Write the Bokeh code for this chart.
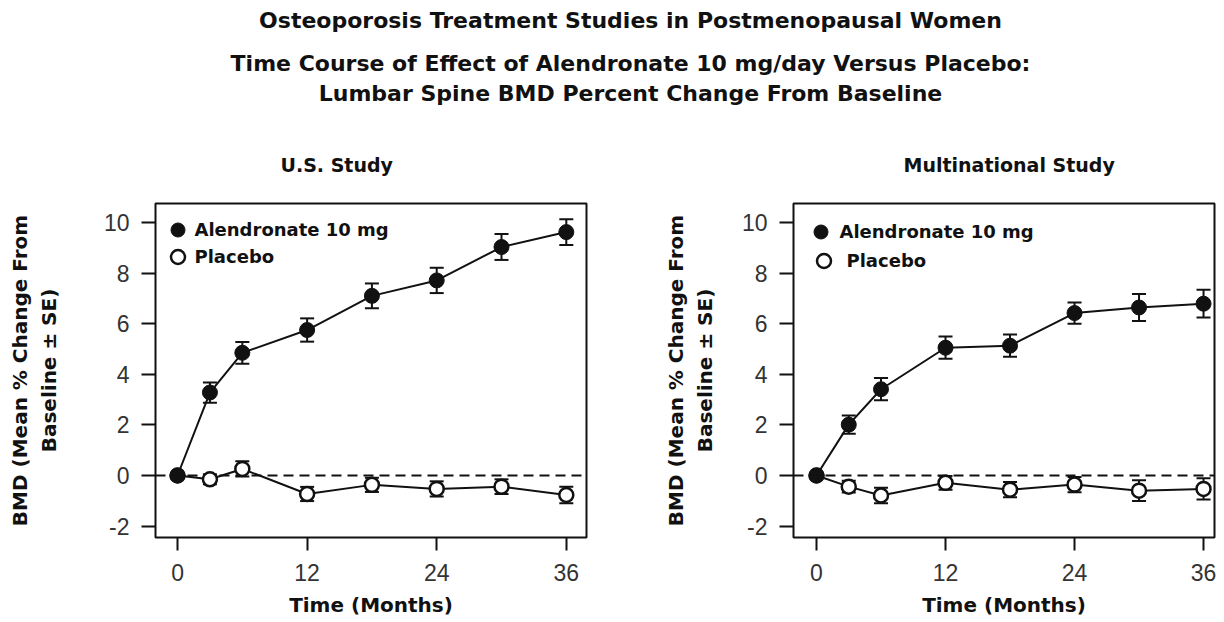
from bokeh.plotting import figure
from bokeh.models import (ColumnDataSource, Whisker, TeeHead, Span, Legend,
                          LegendItem, Label, FixedTicker, Range1d)
from bokeh.layouts import column, row
from bokeh.embed import file_html
from bokeh.resources import INLINE

# ---------------- data ----------------
months = [0, 3, 6, 12, 18, 24, 30, 36]

us_aln = [0, 3.28, 4.85, 5.75, 7.10, 7.71, 9.03, 9.62]
us_aln_se = [0, 0.40, 0.43, 0.46, 0.49, 0.50, 0.51, 0.51]
us_pbo = [0, -0.15, 0.26, -0.73, -0.37, -0.53, -0.44, -0.77]
us_pbo_se = [0, 0.20, 0.30, 0.28, 0.28, 0.30, 0.29, 0.33]

mn_aln = [0, 2.01, 3.41, 5.05, 5.13, 6.42, 6.64, 6.79]
mn_aln_se = [0, 0.36, 0.44, 0.44, 0.44, 0.42, 0.53, 0.55]
mn_pbo = [0, -0.44, -0.79, -0.29, -0.56, -0.36, -0.60, -0.53]
mn_pbo_se = [0, 0.23, 0.31, 0.27, 0.30, 0.30, 0.41, 0.42]

x_ticks = [0, 12, 24, 36]
y_ticks = [-2, 0, 2, 4, 6, 8, 10]
y_tick_labels = {-2: "-2", 0: "0", 2: "2", 4: "4", 6: "6", 8: "8", 10: "10"}

title_lines = [
    "Osteoporosis Treatment Studies in Postmenopausal Women",
    "Time Course of Effect of Alendronate 10 mg/day Versus Placebo:",
    "Lumbar Spine BMD Percent Change From Baseline",
]
panel_titles = ["U.S. Study", "Multinational Study"]
legend_labels = ["Alendronate 10 mg", "Placebo"]
x_title = "Time (Months)"
y_title = "BMD (Mean % Change From\nBaseline \u00b1 SE)"

BOLD_FONT = "DejaVu Sans"
TICK_FONT = "Liberation Sans"
INK = "#111111"

TOP_H = 187
MB_TOP = 16
FRAME_H = 334
MB_BOTTOM = 88
PANEL_H = MB_TOP + FRAME_H + MB_BOTTOM


def whisker_source(x, y, se):
    xs, lo, up = [], [], []
    for xi, yi, si in zip(x, y, se):
        if si > 0:
            xs.append(xi)
            lo.append(yi - si)
            up.append(yi + si)
    return ColumnDataSource(dict(x=xs, lower=lo, upper=up))


def make_panel(aln, aln_se, pbo, pbo_se, ml, fw, mr, xr, lab_standoff, legs):
    p = figure(width=ml + fw + mr, height=PANEL_H,
               min_border_left=ml, min_border_right=mr,
               min_border_top=MB_TOP, min_border_bottom=MB_BOTTOM,
               x_range=Range1d(*xr), y_range=Range1d(-2.45, 10.75),
               toolbar_location=None, output_backend="svg", title=None,
               background_fill_color="white", border_fill_color="white")
    p.grid.visible = False
    p.outline_line_color = INK
    p.outline_line_width = 2

    p.xaxis.ticker = FixedTicker(ticks=x_ticks)
    p.yaxis.ticker = FixedTicker(ticks=y_ticks)
    p.yaxis.major_label_overrides = y_tick_labels
    for ax in (p.xaxis, p.yaxis):
        ax.axis_line_color = None
        ax.major_tick_in = 0
        ax.major_tick_out = 14
        ax.major_tick_line_width = 2
        ax.major_tick_line_color = INK
        ax.minor_tick_line_color = None
        ax.major_label_text_font = TICK_FONT
        ax.major_label_text_font_size = "23px"
        ax.major_label_text_color = "#333333"
        ax.axis_label_text_font = BOLD_FONT
        ax.axis_label_text_font_style = "bold"
        ax.axis_label_text_font_size = "20px"
        ax.axis_label_text_color = INK
    p.xaxis.axis_label = x_title
    p.xaxis.major_tick_out = 13
    p.xaxis.major_label_standoff = 13
    p.xaxis.axis_label_standoff = 9
    p.yaxis.axis_label = y_title
    p.yaxis.major_label_standoff = 12
    p.yaxis.axis_label_standoff = lab_standoff
    p.yaxis.axis_label_text_line_height = 1.2

    p.add_layout(Span(location=0, dimension="width", line_color=INK,
                      line_width=2, line_dash="10 6", level="underlay"))

    # placebo
    p.line(months, pbo, line_color=INK, line_width=2)
    p.add_layout(Whisker(source=whisker_source(months, pbo, pbo_se),
                         base="x", lower="lower", upper="upper",
                         line_color=INK, line_width=2, level="underlay",
                         upper_head=TeeHead(size=14, line_width=2, line_color=INK),
                         lower_head=TeeHead(size=14, line_width=2, line_color=INK)))
    r_pbo = p.scatter(months, pbo, size=14, fill_color="white",
                      line_color=INK, line_width=2.5)
    # alendronate
    p.line(months, aln, line_color=INK, line_width=2)
    p.add_layout(Whisker(source=whisker_source(months, aln, aln_se),
                         base="x", lower="lower", upper="upper",
                         line_color=INK, line_width=2, level="underlay",
                         upper_head=TeeHead(size=14, line_width=2, line_color=INK),
                         lower_head=TeeHead(size=14, line_width=2, line_color=INK)))
    r_aln = p.scatter(months, aln, size=15, fill_color=INK, line_color=INK)

    for label, rend, (vx, vtop, ls) in zip(legend_labels, [r_aln, r_pbo], legs):
        gsz = 35
        leg = Legend(items=[LegendItem(label=label, renderers=[rend])],
                     location=(vx, FRAME_H - vtop - gsz), padding=0, margin=0,
                     glyph_width=gsz, glyph_height=gsz, label_standoff=ls,
                     border_line_color=None, background_fill_alpha=0,
                     label_text_font=BOLD_FONT, label_text_font_style="bold",
                     label_text_font_size="18px", label_text_color=INK)
        p.add_layout(leg, "center")
    return p


# ---------------- title strip (main titles + panel titles) ----------------
tp = figure(width=1216, height=TOP_H, x_range=(0, 1), y_range=(0, 1),
            x_axis_type=None, y_axis_type=None, min_border=0, title=None,
            toolbar_location=None, output_backend="svg",
            outline_line_color=None, border_fill_color="white")
tp.grid.visible = False
for txt, yt in zip(title_lines, [20, 63, 93]):
    tp.add_layout(Label(x=630, y=TOP_H - yt, x_units="screen", y_units="screen",
                        text=txt, text_align="center", text_baseline="alphabetic",
                        text_font=BOLD_FONT, text_font_style="bold",
                        text_font_size="22px", text_color=INK))
for txt, xl in zip(panel_titles, [280, 903]):
    tp.add_layout(Label(x=xl, y=TOP_H - 164, x_units="screen", y_units="screen",
                        text=txt, text_align="left", text_baseline="middle",
                        text_font=BOLD_FONT, text_font_style="bold",
                        text_font_size="19px", text_color=INK))

left = make_panel(us_aln, us_aln_se, us_pbo, us_pbo_se,
                  ml=155, fw=431, mr=46, xr=(-2.04, 37.87), lab_standoff=40,
                  legs=[(4.5, 8.5, 0), (4.5, 35.5, 0)])
right = make_panel(mn_aln, mn_aln_se, mn_pbo, mn_pbo_se,
                   ml=161, fw=421, mr=2, xr=(-2.14, 37.02), lab_standoff=22,
                   legs=[(9.5, 10.5, 2), (12.5, 39.5, 6)])

layout = column(tp, row(left, right, spacing=0), spacing=0)
open("out.html", "w").write(file_html(layout, INLINE))
